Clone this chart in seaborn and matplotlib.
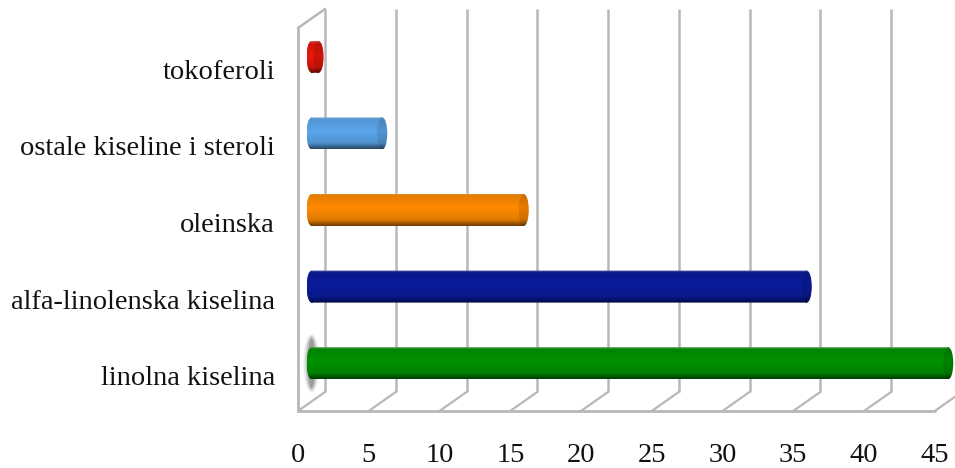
import matplotlib
matplotlib.use("Agg")
import matplotlib.pyplot as plt
import numpy as np
import seaborn as sns
from matplotlib.colors import LinearSegmentedColormap
from matplotlib.patches import Ellipse
from matplotlib.path import Path
from matplotlib.transforms import Affine2D

categories = ["tokoferoli", "ostale kiseline i steroli", "oleinska",
              "alfa-linolenska kiselina", "linolna kiselina"]
values = [0.5, 5, 15, 35, 45]
colors = ["#e8170b", "#5ba6ea", "#ff8a00", "#0a1c9c", "#009200"]
x_ticks = [0, 5, 10, 15, 20, 25, 30, 35, 40, 45]

W, H = 955, 468
GRID = "#b8b8b8"

sns.set_style("white")
plt.rcParams["font.family"] = ["Liberation Serif", "DejaVu Serif"]

fig = plt.figure(figsize=(W / 100, H / 100), dpi=100)
# front plane of the pseudo-3D box, in pixels
left, right, top, bottom = 298, 298 + 14.15 * 45, 28, 411
ax = fig.add_axes([left / W, 1 - bottom / H, (right - left) / W, (bottom - top) / H])

sns.barplot(x=values, y=categories, hue=categories, palette=colors, legend=False,
            width=32 / 76.6, orient="h", ax=ax, zorder=4, clip_on=False)
ax.set_xlim(0, 45)
ax.set_ylim(4.5, -0.5)
sns.despine(ax=ax, left=True, bottom=True)

# depth offsets: back wall and the plane in which the bars stand
back = ax.transData + Affine2D().translate(27, 19)
mid = ax.transData + Affine2D().translate(13.5, 9.5)

# box: gridlines on the back wall, floor diagonals, front edges
ax.vlines(x_ticks, -0.5, 4.5, color=GRID, lw=1.8, transform=back, clip_on=False, zorder=1)
for t in x_ticks:
    x0, y0 = ax.transData.transform((t, 4.5))
    fig.add_artist(plt.Line2D([x0, x0 + 27], [y0, y0 + 19], color=GRID, lw=1.6,
                              transform=None, zorder=1))
ax.plot([0, 45], [4.5, 4.5], color=GRID, lw=2, clip_on=False, zorder=2)
ax.plot([0, 0], [4.5, -0.5], color=GRID, lw=2, clip_on=False, zorder=2)
x0, y0 = ax.transData.transform((0, -0.5))
fig.add_artist(plt.Line2D([x0, x0 + 27], [y0, y0 + 19], color=GRID, lw=1.8,
                          transform=None, zorder=1))

# cylinder shading
cap = 5 / 14.15
half = 16 / 76.6
shade = np.linspace(0, 1, 64).reshape(-1, 1)


def cylinder_map(c):
    base = np.array(matplotlib.colors.to_rgb(c))
    return LinearSegmentedColormap.from_list("cyl", [
        (0.0, tuple(base * 0.6 + 0.28)),
        (0.07, tuple(base * 0.9)),
        (0.45, tuple(base)),
        (0.82, tuple(base * 0.88)),
        (1.0, tuple(base * 0.42)),
    ])


# grey halo behind the base of the longest bar
for w, a in [(16, 0.12), (12, 0.22), (8, 0.35)]:
    ax.add_patch(Ellipse((0, 4), w / 14.15, (58 - (16 - w)) / 76.6, facecolor="#505050",
                         edgecolor="none", alpha=a, transform=mid, clip_on=False, zorder=3))

for i, (rect, v, c) in enumerate(zip(ax.patches, values, colors)):
    rect.set_transform(mid)
    rect.set_visible(False)
    left_cap = Path.unit_circle().transformed(Affine2D().scale(cap, half).translate(0, i))
    right_cap = Path.unit_circle().transformed(Affine2D().scale(cap, half).translate(v, i))
    body = Path.unit_rectangle().transformed(Affine2D().scale(v, 2 * half).translate(0, i - half))
    outline = Path.make_compound_path(left_cap, body, right_cap)
    img = ax.imshow(shade, cmap=cylinder_map(c), aspect="auto", zorder=5,
                    extent=(-cap, v + cap, i + half, i - half),
                    transform=mid, interpolation="bilinear")
    img.set_clip_box(fig.bbox)
    img.set_clip_path(outline, mid)
    ax.add_patch(Ellipse((v, i), 2 * cap, 2 * half, facecolor="black", edgecolor="none",
                         alpha=0.10, transform=mid, clip_on=False, zorder=6))

ax.set_xlim(0, 45)
ax.set_ylim(4.5, -0.5)
ax.set_xticks(x_ticks)
ax.set_yticks(range(len(categories)))
ax.set_yticklabels(categories)
ax.tick_params(axis="x", length=0, pad=23, labelsize=20.5, labelcolor="#111111")
ax.tick_params(axis="y", length=0, pad=16.5, labelsize=20.5, labelcolor="#111111")
for label in ax.get_yticklabels():
    label.set_transform(label.get_transform() + Affine2D().translate(0, -3))
ax.set_xlabel("")
ax.set_ylabel("")
ax.grid(False)

fig.savefig("out.png", dpi=100)
